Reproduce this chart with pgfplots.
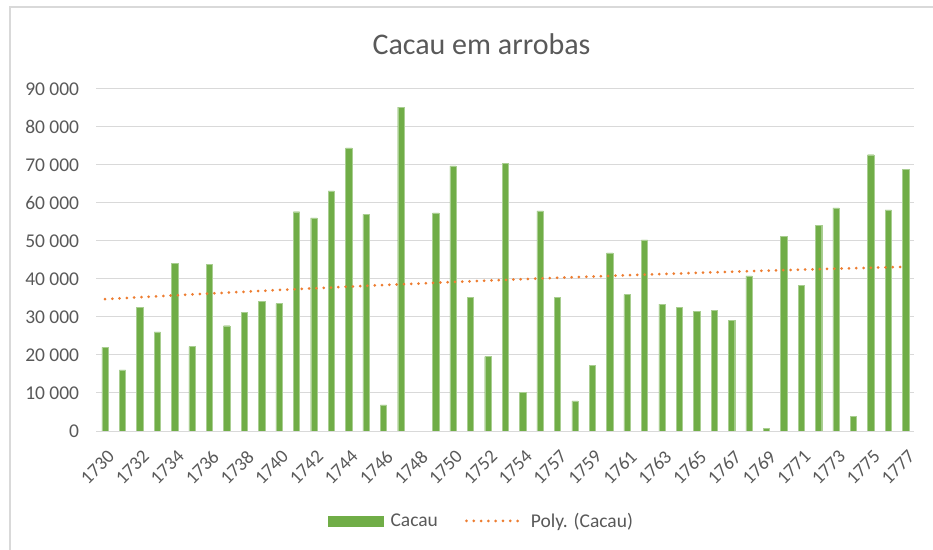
\documentclass[border=0pt]{standalone}
\usepackage{pgfplots}
\pgfplotsset{compat=1.18}
\usepackage{fontspec}
\setmainfont{Carlito}
\definecolor{cacao}{HTML}{70AD47}
\definecolor{trend}{HTML}{ED7D31}
\definecolor{txt}{HTML}{595959}
\definecolor{gridc}{HTML}{D9D9D9}
\begin{document}
\begin{tikzpicture}
\useasboundingbox (0,0) rectangle (933bp,550bp);
\draw[gridc, line width=1.5bp] (10bp,0bp) -- (10bp,543bp) -- (940bp,543bp);
\node[txt, font=\fontsize{30bp}{36bp}\selectfont] at (481.5bp,506bp) {Cacau em arrobas};
\begin{axis}[
  at={(96.3bp,119bp)}, anchor=south west,
  width=818bp, height=342bp, scale only axis,
  xmin=-0.5, xmax=46.5, ymin=0, ymax=90000,
  axis line style={draw=none},
  axis x line*=bottom,
  ymajorgrids, xmajorgrids=false, grid style={gridc, line width=1bp},
  major tick length=0pt,
  scaled y ticks=false,
  ytick={0,10000,...,90000},
  yticklabels={0,10 000,20 000,30 000,40 000,50 000,60 000,70 000,80 000,90 000},
  xtick={0.1,2.1,...,46.1},
  xticklabels={1730,1732,1734,1736,1738,1740,1742,1744,1746,1748,1750,1752,1754,1757,1759,1761,1763,1765,1767,1769,1771,1773,1775,1777},
  yticklabel style={txt, font=\fontsize{19.5bp}{23bp}\selectfont, anchor=east, inner sep=0pt, xshift=-17bp},
  xticklabel style={txt, font=\fontsize{19bp}{23bp}\selectfont, rotate=45, anchor=north east, inner sep=0pt},
  xticklabel shift=18bp,
  /pgf/number format/assume math mode=true,
  legend style={draw=none, at={(0.471,-0.263)}, anchor=center, legend columns=2,
    font=\fontsize{19.5bp}{23bp}\selectfont, text=txt,
    /tikz/every odd column/.append style={column sep=5bp},
    /tikz/every even column/.append style={column sep=25bp}},
  legend cell align=left,
]
\draw[gridc, line width=1bp] (axis cs:-0.5,0) -- (axis cs:46.5,0);
\addplot[ybar, bar width=6.3bp, fill=cacao, draw=cacao!60!white, line width=0.4bp,
  legend image code/.code={\fill[cacao] (0bp,-5bp) rectangle (55bp,5bp);}]
coordinates {
(0,22000)(1,16100)(2,32600)(3,26100)(4,44200)(5,22200)(6,43800)(7,27700)(8,31200)(9,34100)
(10,33500)(11,57700)(12,56100)(13,63200)(14,74500)(15,57000)(16,6900)(17,85200)
(19,57400)(20,69800)(21,35100)(22,19600)(23,70400)(24,10200)(25,57900)(26,35100)(27,7900)(28,17300)(29,46900)
(30,35900)(31,50300)(32,33400)(33,32600)(34,31500)(35,31800)(36,29200)(37,40800)(38,700)(39,51200)
(40,38400)(41,54200)(42,58700)(43,3900)(44,72700)(45,58200)(46,68800)
};
\addlegendentry{Cacau}
\addplot[trend, line width=3bp, line cap=round, dash pattern=on 0pt off 7.3bp, mark=none,
  legend image code/.code={\draw[trend, line width=3bp, line cap=round, dash pattern=on 0pt off 7.3bp] (0bp,0bp) -- (56bp,0bp);}]
coordinates {
(0,34700)(5,35945)(10,37111)(15,38200)(20,39210)(25,40141)(30,40995)(35,41770)(40,42466)(46,43199)
};
\addlegendentry{Poly. (Cacau)}
\end{axis}
\end{tikzpicture}
\end{document}
